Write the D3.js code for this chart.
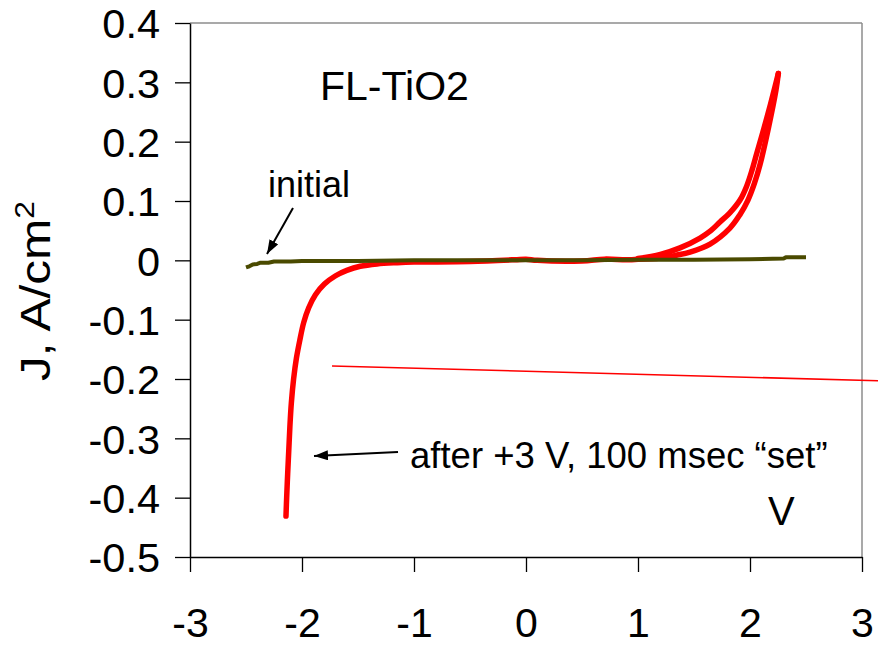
<!DOCTYPE html>
<html><head><meta charset="utf-8">
<script src="https://cdn.jsdelivr.net/npm/d3@7"></script>
<style>
body{margin:0;background:#fff;}
svg text{font-family:"Liberation Sans",Arial,sans-serif;fill:#000;}
</style></head>
<body><svg id="c" width="878" height="645"></svg>
<script>
// ---- data ----
const xTicks = [-3,-2,-1,0,1,2,3];
const yTicks = [-0.5,-0.4,-0.3,-0.2,-0.1,0,0.1,0.2,0.3,0.4];
const yTickLabels = ["-0.5","-0.4","-0.3","-0.2","-0.1","0","0.1","0.2","0.3","0.4"];

// "initial" sweep (olive)
const initialV = [-2.5,-2.47,-2.44,-2.4,-2.37,-2.3,-2.25,-2.1,-2.0,-1.5,-1.0,-0.5,0,0.5,1.0,1.5,2.0,2.3,2.32,2.4,2.5];
const initialJ = [-0.012,-0.010,-0.007,-0.006,-0.004,-0.004,-0.002,-0.002,-0.001,-0.001,0,0,0,0,0.001,0.001,0.002,0.003,0.005,0.005,0.005];

// after "set" – negative branch and flat region
const setNegV = [-2.143,-2.137,-2.128,-2.118,-2.108,-2.095,-2.075,-2.05,-2.02,-1.985,-1.94,-1.88,-1.80,-1.70,-1.60,-1.48,-1.33,-1.15,-1.0,-0.5,-0.1,0.0,0.1,0.5,0.7,0.9,1.0];
const setNegJ = [-0.431,-0.40,-0.36,-0.32,-0.28,-0.24,-0.20,-0.165,-0.135,-0.105,-0.080,-0.058,-0.040,-0.026,-0.017,-0.010,-0.006,-0.004,-0.003,-0.002,0.001,0.002,0.0,-0.001,0.002,0.001,0.002];
// positive branch going up (lower current)
const setUpV = [1.0,1.2,1.35,1.464,1.643,1.821,1.91,1.982,2.04,2.089,2.161,2.232,2.253];
const setUpJ = [0.002,0.004,0.009,0.014,0.0275,0.0544,0.077,0.1016,0.13,0.161,0.220,0.287,0.315];
// positive branch coming down (higher current)
const setDownV = [2.253,2.205,2.15,2.107,2.06,2.018,1.97,1.911,1.82,1.732,1.65,1.554,1.375,1.2,1.0];
const setDownJ = [0.315,0.279,0.24,0.211,0.18,0.152,0.125,0.1016,0.08,0.0646,0.05,0.0376,0.021,0.01,0.003];

// stray thin red line
const strayV = [-1.732, 3.143];
const strayJ = [-0.178, -0.203];

// ---- layout ----
const svg = d3.select("#c");
const L = 190, R = 862, T = 23, B = 557;
const x = d3.scaleLinear().domain([-3,3]).range([L,R]);
const y = d3.scaleLinear().domain([-0.5,0.4]).range([B,T]);

// frame (gray top/right)
svg.append("line").attr("x1",L).attr("x2",R).attr("y1",T).attr("y2",T).attr("stroke","#8c8c8c").attr("stroke-width",1.5);
svg.append("line").attr("x1",R).attr("x2",R).attr("y1",T).attr("y2",B).attr("stroke","#8c8c8c").attr("stroke-width",1.5);

const line = d3.line().x(d=>x(d[0])).y(d=>y(d[1])).curve(d3.curveCatmullRom.alpha(0.5));
const zip = (a,b)=>a.map((v,i)=>[v,b[i]]);

// red set curve
const red = "#ff0000";
[[setNegV,setNegJ],[setUpV,setUpJ],[setDownV,setDownJ]].forEach(([a,b])=>{
  svg.append("path").attr("d",line(zip(a,b))).attr("fill","none").attr("stroke",red)
    .attr("stroke-width",5.5).attr("stroke-linejoin","round").attr("stroke-linecap","round");
});
// initial olive
svg.append("path").attr("d",d3.line().x(d=>x(d[0])).y(d=>y(d[1]))(zip(initialV,initialJ)))
  .attr("fill","none").attr("stroke","#4a4a00").attr("stroke-width",4).attr("stroke-linejoin","round");

// stray line
svg.append("path").attr("d",d3.line().x(d=>x(d[0])).y(d=>y(d[1]))(zip(strayV,strayJ)))
  .attr("fill","none").attr("stroke",red).attr("stroke-width",1.6);

// axes
const ax = svg.append("g").attr("transform",`translate(${L},0)`)
  .call(d3.axisLeft(y).tickValues(yTicks).tickSize(15).tickSizeOuter(0).tickPadding(15)
    .tickFormat((d,i)=>yTickLabels[i]));
const bx = svg.append("g").attr("transform",`translate(0,${B})`)
  .call(d3.axisBottom(x).tickValues(xTicks).tickSize(15).tickSizeOuter(0).tickPadding(36)
    .tickFormat(d=>d));
[ax,bx].forEach(g=>{
  g.select(".domain").attr("stroke","#000").attr("stroke-width",1.5);
  g.selectAll(".tick line").attr("stroke","#000").attr("stroke-width",1.3);
  g.selectAll(".tick text").attr("font-family","Liberation Sans, Arial, sans-serif").attr("fill","#000");
});
ax.selectAll(".tick text").attr("font-size",41.5).attr("dy","0.36em");
bx.selectAll(".tick text").attr("font-size",41);

// texts
svg.append("text").attr("x",320).attr("y",100).attr("font-size",41).text("FL-TiO2");
svg.append("text").attr("x",268).attr("y",197).attr("font-size",36).text("initial");
svg.append("text").attr("x",410).attr("y",468).attr("font-size",36.5).text("after +3 V, 100 msec \u201cset\u201d");
svg.append("text").attr("x",768).attr("y",525).attr("font-size",40).text("V");
const yl = svg.append("text").attr("transform","translate(50,291) rotate(-90) scale(1.18,1)").attr("text-anchor","middle").attr("font-size",42);
yl.append("tspan").text("J, A/cm");
yl.append("tspan").attr("font-size",27).attr("dy",-16).text("2");

// arrows
const defs = svg.append("defs");
defs.append("marker").attr("id","ah").attr("viewBox","0 0 14 10").attr("refX",14).attr("refY",5)
  .attr("markerWidth",7).attr("markerHeight",5).attr("markerUnits","strokeWidth").attr("orient","auto")
  .append("path").attr("d","M0,0L14,5L0,10Z").attr("fill","#000");
svg.append("line").attr("x1",293).attr("y1",208).attr("x2",267).attr("y2",254).attr("stroke","#000").attr("stroke-width",2).attr("marker-end","url(#ah)");
svg.append("line").attr("x1",398).attr("y1",452).attr("x2",314).attr("y2",456).attr("stroke","#000").attr("stroke-width",2).attr("marker-end","url(#ah)");
</script></body></html>
